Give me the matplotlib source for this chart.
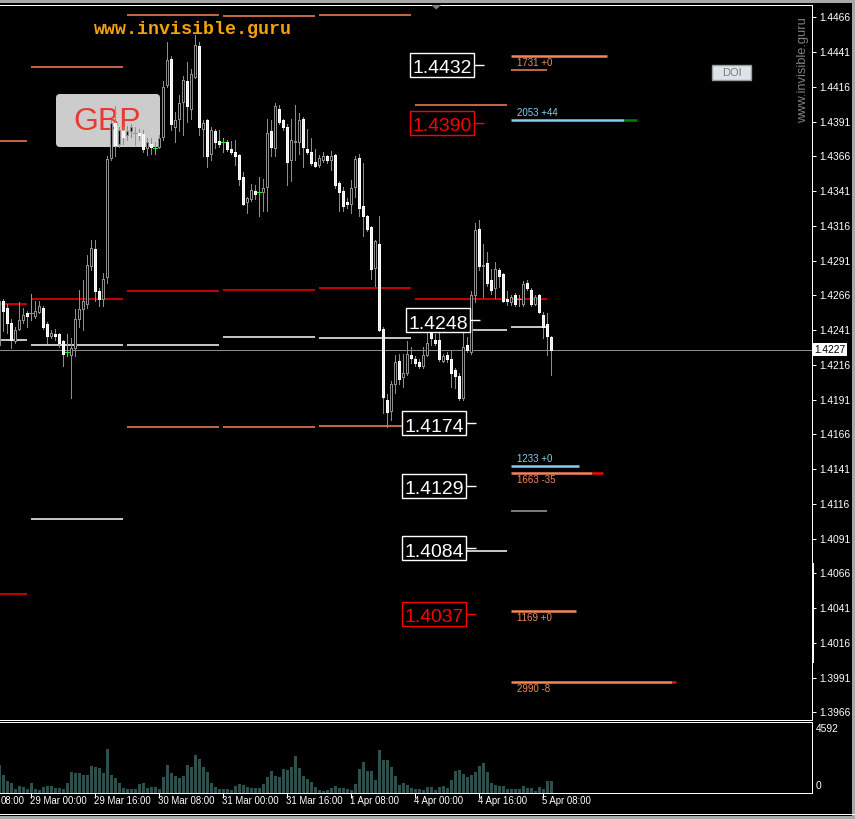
import matplotlib
matplotlib.use('Agg')
import matplotlib.pyplot as plt
import matplotlib.transforms as mtrans
from matplotlib import font_manager
from matplotlib.patches import Rectangle, FancyBboxPatch, Polygon

W, H = 855, 819

# ---------------- data ----------------
opens = [1.4230, 1.4262, 1.4257, 1.4246, 1.4233, 1.4242, 1.4248, 1.4253, 1.4253, 1.4251,
         1.4254, 1.4257, 1.4245, 1.4237, 1.4238, 1.4238, 1.4233, 1.4225, 1.4223, 1.4228,
         1.4249, 1.4256, 1.4260, 1.4287, 1.4299, 1.4269, 1.4263, 1.4279, 1.4365, 1.4390,
         1.4375, 1.4384, 1.4381, 1.4384, 1.4383, 1.4383, 1.4382, 1.4372, 1.4375, 1.4372,
         1.4373, 1.4380, 1.4417, 1.4436, 1.4387, 1.4393, 1.4405, 1.4420, 1.4400, 1.4423,
         1.4445, 1.4386, 1.4392, 1.4368, 1.4384, 1.4377, 1.4376, 1.4376, 1.4371, 1.4369,
         1.4367, 1.4351, 1.4333, 1.4335, 1.4341, 1.4340, 1.4340, 1.4344, 1.4384, 1.4372,
         1.4400, 1.4392, 1.4387, 1.4363, 1.4376, 1.4376, 1.4393, 1.4371, 1.4369, 1.4362,
         1.4360, 1.4363, 1.4366, 1.4363, 1.4367, 1.4347, 1.4341, 1.4333, 1.4332, 1.4344,
         1.4365, 1.4330, 1.4323, 1.4315, 1.4286, 1.4303, 1.4242, 1.4191, 1.4183, 1.4202,
         1.4219, 1.4207, 1.4210, 1.4223, 1.4220, 1.4218, 1.4215, 1.4223, 1.4239, 1.4234,
         1.4234, 1.4219, 1.4223, 1.4220, 1.4212, 1.4208, 1.4192, 1.4230, 1.4225, 1.4266,
         1.4314, 1.4287, 1.4289, 1.4277, 1.4271, 1.4284, 1.4281, 1.4263, 1.4261, 1.4266,
         1.4263, 1.4260, 1.4275, 1.4270, 1.4260, 1.4266, 1.4252, 1.4245, 1.4236]
highs = [1.4263, 1.4263, 1.4260, 1.4249, 1.4243, 1.4261, 1.4257, 1.4255, 1.4267, 1.4262,
         1.4262, 1.4258, 1.4247, 1.4241, 1.4242, 1.4239, 1.4234, 1.4238, 1.4235, 1.4256,
         1.4270, 1.4277, 1.4295, 1.4306, 1.4306, 1.4271, 1.4282, 1.4366, 1.4392, 1.4402,
         1.4387, 1.4387, 1.4388, 1.4389, 1.4387, 1.4386, 1.4385, 1.4379, 1.4379, 1.4376,
         1.4381, 1.4420, 1.4448, 1.4438, 1.4398, 1.4410, 1.4424, 1.4434, 1.4429, 1.4453,
         1.4448, 1.4392, 1.4393, 1.4387, 1.4386, 1.4385, 1.4379, 1.4378, 1.4377, 1.4378,
         1.4368, 1.4355, 1.4337, 1.4346, 1.4345, 1.4351, 1.4350, 1.4393, 1.4392, 1.4404,
         1.4403, 1.4393, 1.4389, 1.4393, 1.4403, 1.4397, 1.4394, 1.4386, 1.4379, 1.4371,
         1.4367, 1.4369, 1.4367, 1.4370, 1.4368, 1.4348, 1.4344, 1.4336, 1.4349, 1.4366,
         1.4368, 1.4361, 1.4324, 1.4316, 1.4306, 1.4323, 1.4243, 1.4195, 1.4204, 1.4223,
         1.4224, 1.4224, 1.4233, 1.4229, 1.4222, 1.4220, 1.4229, 1.4239, 1.4242, 1.4238,
         1.4241, 1.4224, 1.4225, 1.4227, 1.4214, 1.4210, 1.4239, 1.4236, 1.4269, 1.4318,
         1.4320, 1.4303, 1.4297, 1.4285, 1.4290, 1.4286, 1.4282, 1.4269, 1.4266, 1.4268,
         1.4266, 1.4276, 1.4277, 1.4271, 1.4266, 1.4267, 1.4254, 1.4253, 1.4237]
lows = [1.4222, 1.4240, 1.4239, 1.4228, 1.4232, 1.4241, 1.4246, 1.4243, 1.4248, 1.4250,
        1.4253, 1.4242, 1.4232, 1.4235, 1.4234, 1.4229, 1.4215, 1.4222, 1.4192, 1.4222,
        1.4243, 1.4241, 1.4257, 1.4284, 1.4262, 1.4258, 1.4258, 1.4275, 1.4363, 1.4366,
        1.4373, 1.4375, 1.4378, 1.4380, 1.4374, 1.4378, 1.4369, 1.4367, 1.4368, 1.4368,
        1.4372, 1.4378, 1.4416, 1.4385, 1.4376, 1.4384, 1.4381, 1.4391, 1.4393, 1.4422,
        1.4381, 1.4366, 1.4358, 1.4363, 1.4372, 1.4373, 1.4369, 1.4370, 1.4368, 1.4360,
        1.4345, 1.4331, 1.4325, 1.4334, 1.4335, 1.4323, 1.4327, 1.4327, 1.4366, 1.4366,
        1.4389, 1.4385, 1.4345, 1.4348, 1.4363, 1.4368, 1.4358, 1.4368, 1.4360, 1.4358,
        1.4358, 1.4362, 1.4361, 1.4356, 1.4343, 1.4327, 1.4327, 1.4329, 1.4325, 1.4337,
        1.4323, 1.4309, 1.4312, 1.4278, 1.4273, 1.4240, 1.4181, 1.4171, 1.4176, 1.4196,
        1.4202, 1.4200, 1.4209, 1.4217, 1.4215, 1.4214, 1.4214, 1.4222, 1.4230, 1.4230,
        1.4219, 1.4218, 1.4218, 1.4200, 1.4199, 1.4191, 1.4191, 1.4225, 1.4224, 1.4261,
        1.4284, 1.4265, 1.4273, 1.4267, 1.4264, 1.4272, 1.4261, 1.4259, 1.4259, 1.4258,
        1.4258, 1.4258, 1.4270, 1.4258, 1.4259, 1.4253, 1.4235, 1.4223, 1.4209]
closes = [1.4262, 1.4255, 1.4246, 1.4234, 1.4241, 1.4248, 1.4252, 1.4251, 1.4253, 1.4255,
          1.4258, 1.4243, 1.4237, 1.4239, 1.4237, 1.4232, 1.4224, 1.4225, 1.4228, 1.4249,
          1.4256, 1.4262, 1.4288, 1.4300, 1.4269, 1.4263, 1.4278, 1.4364, 1.4390, 1.4374,
          1.4385, 1.4380, 1.4384, 1.4387, 1.4383, 1.4381, 1.4371, 1.4376, 1.4373, 1.4372,
          1.4379, 1.4416, 1.4435, 1.4389, 1.4392, 1.4404, 1.4421, 1.4402, 1.4425, 1.4446,
          1.4387, 1.4390, 1.4366, 1.4385, 1.4376, 1.4375, 1.4376, 1.4371, 1.4369, 1.4366,
          1.4350, 1.4332, 1.4336, 1.4342, 1.4339, 1.4340, 1.4343, 1.4383, 1.4373, 1.4402,
          1.4391, 1.4387, 1.4362, 1.4378, 1.4377, 1.4392, 1.4373, 1.4369, 1.4361, 1.4359,
          1.4365, 1.4366, 1.4363, 1.4366, 1.4345, 1.4340, 1.4330, 1.4332, 1.4343, 1.4364,
          1.4329, 1.4323, 1.4314, 1.4285, 1.4305, 1.4241, 1.4193, 1.4182, 1.4202, 1.4218,
          1.4206, 1.4210, 1.4224, 1.4221, 1.4217, 1.4215, 1.4223, 1.4232, 1.4235, 1.4232,
          1.4220, 1.4222, 1.4220, 1.4210, 1.4208, 1.4192, 1.4229, 1.4227, 1.4266, 1.4313,
          1.4287, 1.4288, 1.4275, 1.4270, 1.4285, 1.4280, 1.4262, 1.4262, 1.4265, 1.4260,
          1.4263, 1.4274, 1.4271, 1.4260, 1.4265, 1.4254, 1.4243, 1.4237, 1.4227]
volumes = [1845, 1194, 803, 673, 239, 477, 412, 282, 673, 282,
           195, 412, 477, 477, 326, 326, 282, 629, 1389, 1280,
           1324, 1194, 1194, 1779, 1714, 1628, 1280, 2864, 1194, 977,
           673, 326, 239, 282, 239, 586, 673, 326, 369, 369,
           239, 1063, 1845, 1280, 1107, 977, 1128, 1845, 1714, 2430,
           2235, 1714, 1345, 673, 412, 239, 239, 239, 195, 477,
           608, 543, 412, 326, 326, 326, 586, 1063, 1454, 1107,
           1063, 1584, 1497, 1671, 2365, 1628, 1128, 890, 716, 412,
           195, 152, 195, 326, 477, 326, 326, 239, 195, 586,
           1584, 2040, 1454, 1411, 868, 2799, 2148, 2148, 1714, 1128,
           543, 673, 543, 326, 282, 282, 195, 412, 412, 195,
           412, 477, 326, 846, 1411, 1519, 1237, 1020, 1194, 1389,
           1758, 1931, 1345, 629, 521, 477, 477, 282, 282, 239,
           239, 477, 326, 326, 152, 412, 282, 803, 803]
current_price = 1.4227
volume_max_label = 4592

time_tick_bars = [8, 24, 40, 56, 72, 88, 104, 120, 136]
time_tick_labels = ["29 Mar 00:00", "29 Mar 16:00", "30 Mar 08:00",
                    "31 Mar 00:00", "31 Mar 16:00", "1 Apr 08:00", "4 Apr 00:00",
                    "4 Apr 16:00", "5 Apr 08:00"]
first_time_label = "08:00"   # tail of "28 Mar 08:00", cut by the left edge
price_ticks = [1.4466, 1.4441, 1.4416, 1.4391, 1.4366, 1.4341, 1.4316, 1.4291, 1.4266,
               1.4241, 1.4216, 1.4191, 1.4166, 1.4141, 1.4116, 1.4091, 1.4066, 1.4041,
               1.4016, 1.3991, 1.3966]

# daily levels (one segment per trading day)
day_start = [-16, 8, 32, 56, 80, 104, 128]
day_end = [7, 31, 55, 79, 103, 127, 137]
upper_level = [1.4377, 1.4430, 1.4468, 1.4467, 1.4468, 1.4403, 1.4428]
red_level = [1.4260, 1.4263, 1.4269, 1.4270, 1.4271, 1.4263, 1.4263]
white_level = [1.4234, 1.4230, 1.4230, 1.4236, 1.4235, 1.4241, 1.4243]
lower_level = [1.4051, 1.4105, 1.4171, 1.4171, 1.4172, 1.4082, 1.4111]
lower_kind = ['red', 'white', 'salmon', 'salmon', 'salmon', 'white', 'gray']

# price labels
label_price = [1.4432, 1.4390, 1.4248, 1.4174, 1.4129, 1.4084, 1.4037]
label_kind = ['white', 'red', 'white', 'white', 'white', 'white', 'red']

# open-interest levels
oi_price = [1.4438, 1.4392, 1.4143, 1.4138, 1.4039, 1.3988]
oi_value = [1731, 2053, 1233, 1663, 1169, 2990]
oi_change = [0, 44, 0, -35, 0, -8]
oi_kind = ['salmon', 'sky', 'sky', 'salmon', 'salmon', 'salmon']

# ---------------- style ----------------
COL = {'white': '#ffffff', 'red': '#ff0000', 'salmon': '#f8845a', 'gray': '#a0a0a0',
       'sky': '#87ceeb'}
TXT = {'salmon': '#f08a5d', 'sky': '#87ceeb'}

avail = {f.name for f in font_manager.fontManager.ttflist}
NARROW = 'Liberation Sans Narrow' in avail
UI = 'Liberation Sans Narrow' if NARROW else 'Liberation Sans'
K = 1.0 if NARROW else 0.82
AX_FS = 8.5 if NARROW else 7.4

plt.rcParams['font.family'] = ['Liberation Sans', 'DejaVu Sans']

fig = plt.figure(figsize=(W / 100, H / 100), dpi=100, facecolor='black')

# pixel layout
TOP, BOT, RIGHT = 5, 720, 812
VTOP, VBOT = 722, 793
LW = 0.72


def fr(y):
    return 1 - y / H

bg = fig.add_axes([0, 0, 1, 1], zorder=0)
bg.set_xlim(0, W); bg.set_ylim(H, 0); bg.axis('off')

ax = fig.add_axes([0, fr(BOT), RIGHT / W, (BOT - TOP) / H], zorder=1)
ax.patch.set_visible(False)
axv = fig.add_axes([0, fr(VBOT), RIGHT / W, (VBOT - VTOP) / H], zorder=1)
axv.patch.set_visible(False)
ov = fig.add_axes([0, 0, 1, 1], zorder=3)
ov.set_xlim(0, W); ov.set_ylim(H, 0); ov.axis('off')

# price <-> pixel scale of the chart: 1.4466 at y=17.3, 1.3966 at y=712.3
ppx = 0.05 / 695.0
p_top = 1.4466 + (17.3 - TOP) * ppx
p_bot = 1.3966 - (BOT - 712.3) * ppx
ax.set_ylim(p_bot, p_top)
ax.set_xlim(0.25, (RIGHT + 1) / 4)
axv.set_xlim(0.25, (RIGHT + 1) / 4)
axv.set_ylim(0, 4600)

for a in (ax, axv):
    for s in a.spines.values():
        s.set_color('white'); s.set_linewidth(LW)
    a.spines['left'].set_visible(False)

# GBP box (behind candles)
bg.add_patch(FancyBboxPatch((56, 94), 104, 53, boxstyle='round,pad=0,rounding_size=4',
                            fc='#cccccc', ec='none'))
bg.text(107, 122, 'GBP', color='#e83a2e', fontsize=23, ha='center', va='center',
        family='Liberation Sans')

# daily level segments
SEG = dict(lw=1.1, zorder=1.5)
for k in range(len(day_start)):
    s, e = day_start[k], day_end[k]
    ax.hlines(upper_level[k], s, e, color=COL['salmon'], **SEG)
    ax.hlines(red_level[k], s, e, color=COL['red'], **SEG)
    ax.hlines(white_level[k], s, e, color=COL['white'], **SEG)
    ax.hlines(lower_level[k], s, e, color=COL[lower_kind[k]], **SEG)

# current price line
ax.axhline(current_price, color='#8c8c8c', lw=LW, zorder=1.6, antialiased=False)

# candles
WICK = '#8c8c8c'
for i, (o, h, l, c) in enumerate(zip(opens, highs, lows, closes)):
    if abs(o - c) < 1e-9:
        ax.vlines(i, l, h, color='#00ff00', lw=LW, zorder=3, antialiased=False)
        ax.hlines(o, i - 0.4, i + 0.4, color='#00ff00', lw=LW, zorder=3, antialiased=False)
        continue
    ax.vlines(i, l, h, color=WICK, lw=LW, zorder=2, antialiased=False)
    lo, hi = min(o, c), max(o, c)
    if c > o:
        fc, ec = 'black', '#8c8c8c'
    else:
        fc, ec = '#ececec', '#ffffff'
    ax.add_patch(Rectangle((i - 0.3, lo), 0.6, hi - lo, fc=fc, ec=ec, lw=LW,
                           zorder=3, antialiased=False))

# open interest levels
ppb = 0.0138  # bars per contract
for p, v, ch, kd in zip(oi_price, oi_value, oi_change, oi_kind):
    x0 = 128
    x1 = x0 + v * ppb
    col = COL[kd]
    if ch < 0:
        xr = x1 - max(1.0, abs(ch) * 0.075)
        ax.hlines(p, x0, xr, color=col, lw=1.8, zorder=4)
        ax.hlines(p, xr, x1, color='#ff0000', lw=1.8, zorder=4)
    else:
        ax.hlines(p, x0, x1, color=col, lw=1.8, zorder=4)
        if ch > 0:
            ax.hlines(p, x1, x1 + ch * 0.07, color='#008000', lw=1.8, zorder=4)
    off = 7 * ppx if kd == 'sky' else -7 * ppx
    ax.text(129.5, p + off, f'{v} {ch:+d}', color=TXT[kd],
            fontsize=8.6 * K, family=UI, ha='left', va='center', zorder=5)

# price labels with boxes
box_right_px = [474, 474, 470, 466, 466, 466, 466]
tick_len_px = [10, 10, 10, 10, 10, 10, 10]
for p, kd, xr, tl in zip(label_price, label_kind, box_right_px, tick_len_px):
    col = COL[kd]
    i_r = (xr + 1) / 4
    ax.add_patch(Rectangle((i_r - 16, p - 12 * ppx), 16, 24 * ppx, fc='black', ec=col,
                           lw=1.0, zorder=8))
    ax.hlines(p, i_r, i_r + tl / 4, color=col, lw=1.0, zorder=8)
    ax.text(i_r - 8, p - 8.5 * ppx, f'{p:.4f}', color=col, fontsize=17 * K, family=UI,
            ha='center', va='baseline', zorder=9)

# right price axis
ax.yaxis.tick_right()
ax.set_yticks(price_ticks)
ax.set_yticklabels([f'{t:.4f}' for t in price_ticks])
ax.tick_params(axis='y', colors='white', length=3, width=LW, pad=2, labelsize=AX_FS)
for lab in ax.get_yticklabels():
    lab.set_family(UI)
ax.set_xticks([])
ax.text(1.0025, current_price, f'{current_price:.4f}', color='black', fontsize=AX_FS,
        family=UI, ha='left', va='center', zorder=10,
        transform=mtrans.blended_transform_factory(ax.transAxes, ax.transData),
        bbox=dict(boxstyle='square,pad=0.15', fc='white', ec='none'), clip_on=False)

# volume
axv.bar(range(len(volumes)), volumes, width=0.75, color='#2f4f4f', linewidth=0)
axv.set_yticks([])
axv.set_xticks(time_tick_bars)
axv.set_xticklabels([])
axv.tick_params(axis='x', colors='white', length=3.5, width=LW)
tb = mtrans.blended_transform_factory(axv.transData, fig.transFigure)
for t, lab in zip(time_tick_bars, time_tick_labels):
    axv.text(t - 0.25, fr(801), lab, color='white', fontsize=8.5 * K, family=UI,
             ha='left', va='center', transform=tb, clip_on=False)
ov.text(0.5, 801, first_time_label, color='white', fontsize=8.5 * K, family=UI,
        ha='left', va='center')
ov.text(816, 729, str(volume_max_label), color='white', fontsize=AX_FS, family=UI,
        ha='left', va='center')
ov.text(816, 786, '0', color='white', fontsize=AX_FS, family=UI, ha='left', va='center')

# decorations
ov.text(94, 30, 'www.invisible.guru', color='#f2a20c', fontsize=13.2, family='Liberation Mono',
        fontweight='bold', ha='left', va='center')
ov.text(803, 70, 'www.invisible.guru', color='#808080', fontsize=9.3,
        family='Liberation Sans', rotation=90, ha='center', va='center')
ov.add_patch(Rectangle((712, 65), 39, 15, fc='#dde3ea', ec='#9a9a9a', lw=1))
ov.text(731.5, 73, 'DOI', color='#7a7a7a', fontsize=8, family='Liberation Sans',
        ha='center', va='center')
ov.add_patch(Polygon([(431.5, 5), (441, 5), (436.3, 9.5)], closed=True, fc='#808080',
                     ec='none'))
ov.add_patch(Rectangle((811.5, 563), 2.5, 100, fc='white', ec='none'))
# window frame
ov.add_patch(Rectangle((0, 0), W, 2.5, fc='#a8a8a8', ec='none'))
ov.add_patch(Rectangle((852, 0), 3, H, fc='#a8a8a8', ec='none'))
ov.add_patch(Rectangle((0, 814), W, 1.2, fc='white', ec='none'))
ov.add_patch(Rectangle((0, 816), W, 3, fc='#a8a8a8', ec='none'))

fig.savefig('out.png', dpi=100, facecolor='black')
